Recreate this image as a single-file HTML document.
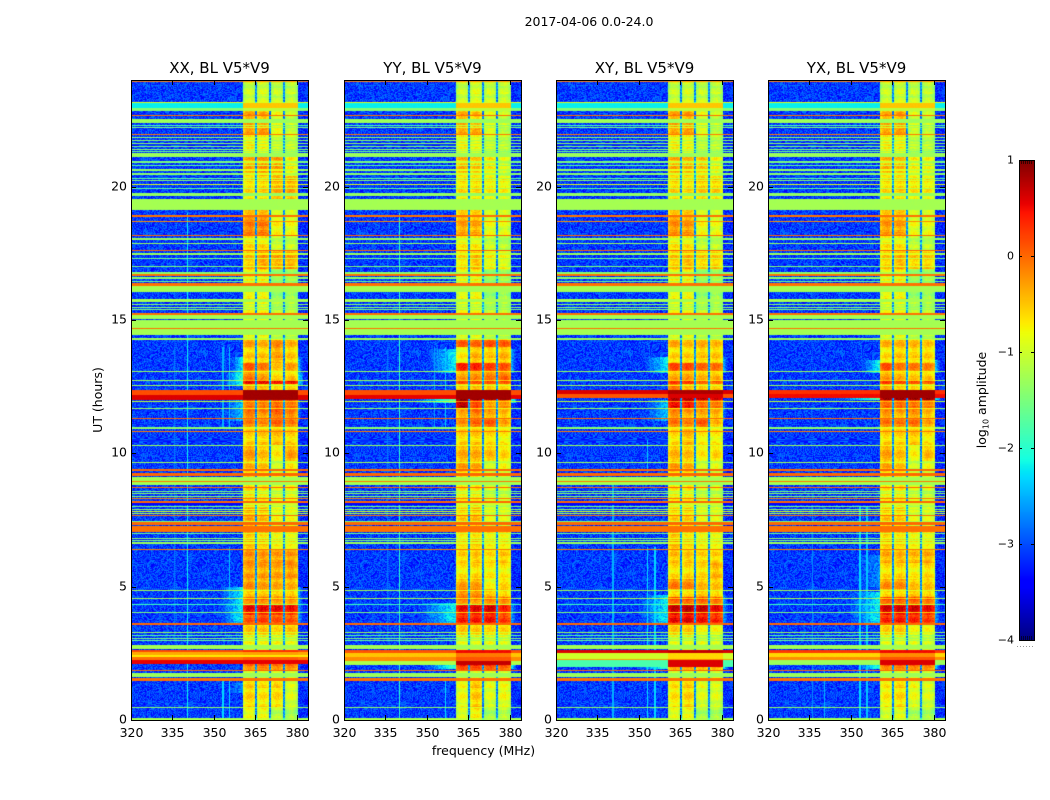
<!DOCTYPE html>
<html>
<head>
<meta charset="utf-8">
<title>2017-04-06 spectrograms</title>
<style>
html,body{margin:0;padding:0;background:#fff;width:1050px;height:800px;overflow:hidden}
#stage{position:relative;width:1050px;height:800px}
canvas{position:absolute;display:block}
svg{position:absolute;left:0;top:0}
text{font-family:"DejaVu Sans","Liberation Sans",sans-serif;fill:#000}
</style>
</head>
<body>
<div id="stage">
<svg id="ov" width="1050" height="800"></svg>
</div>
<script>
// ---- data ----
const panelNames = ["XX","YY","XY","YX"];
const panelLefts = [131,344,556,768];
const freqTicks = [320,335,350,365,380];
const utTicks = [0,5,10,15,20];
const cbarTicks = [1,0,-1,-2,-3,-4];
const cbarLabels = ["1","0","\u22121","\u22122","\u22123","\u22124"];

// full-width flagged rows: [UT low, UT high, log10 amplitude, optional in-band amplitude]
const flaggedRows = [
[23.94,23.98,-0.1],[23.14,23.18,-0.9],[22.95,23.14,-2.2,-0.5],[22.84,22.95,-1.45,-1.1],[22.65,22.69,-0.05],
[22.39,22.54,-1.3],[22.28,22.32,-1.8],[22.2,22.24,-1.5],[21.94,21.99,-0.1],
[21.83,21.87,-1.4],[21.72,21.76,-1.4],[21.61,21.65,-1.4],[21.5,21.54,-1.5],[21.39,21.43,-1.4],[21.3,21.34,-1.6],
[21.11,21.26,-1.3],[20.9,20.97,-1.5],[20.78,20.82,-1.7],[20.6,20.65,-1.35],[20.45,20.5,-1.4],[20.3,20.34,-1.7],
[20.2,20.24,-1.4],[20.06,20.1,-0.9],[19.9,19.95,-1.7],[19.65,19.76,-1.35],[19.13,19.52,-1.25],
[18.86,18.92,-0.05],[18.68,18.72,-0.2],[18.15,18.19,0],[18.0,18.08,-1.3],[17.85,17.9,-1.3],[17.59,17.64,0],[17.44,17.5,-1.3],
[17.28,17.32,-1.6],[16.98,17.03,-1.5],
[16.73,16.8,-1.4],[16.65,16.73,-0.05],[16.54,16.6,-1.4],[16.42,16.46,-1.6],[16.28,16.38,-0.05],[16.05,16.28,-1.25],
[15.68,15.79,-1.25],[15.56,15.6,-1.4],[15.46,15.5,-1.4],[15.38,15.42,-1.5],[15.19,15.26,-0.05],[15.02,15.19,-1.25],
[14.7,15.0,-1.25],[14.66,14.7,-0.05],[14.44,14.66,-1.25],[14.25,14.33,-1.3],[13.05,13.09,-1.3],
[12.71,12.75,-1.3],[12.53,12.57,-1.3],[11.92,11.97,-1.1],[11.66,11.7,-1.3],[11.29,11.34,0],[10.95,11.0,-1.5],[10.91,10.95,-1.3],
[10.8,10.84,-0.1],[10.28,10.32,-1.3],[9.64,9.69,-1.3],[9.32,9.4,0],[9.15,9.25,0],
[8.81,9.11,-1.25],[8.93,8.98,-0.1],[8.7,8.75,0],[8.56,8.6,-1.5],[8.46,8.5,-1.4],[8.36,8.4,-1.4],[8.28,8.33,-0.1],
[8.14,8.2,0],[8.08,8.14,-3.4,-1],[7.97,8.02,-1.5],[7.86,7.9,-1.4],[7.8,7.84,-0.9],[7.65,7.7,-0.05],[7.72,7.78,-1.2],
[7.42,7.46,-1.5],[7.32,7.42,0],[7.14,7.28,-0.05],[7.05,7.14,-0.05],[6.96,7.0,-1.6],[6.8,6.84,-1.4],[6.72,6.76,-1.5],[6.6,6.66,-1.3],[6.38,6.42,-0.1],
[4.84,4.88,-1.25],[4.54,4.58,-1.25],[4.31,4.35,-1.9],[4.01,4.05,-1.5],[3.56,3.62,0],[3.26,3.3,-1.3],
[3.14,3.18,-1.7],[3.05,3.09,-1.5],[2.96,3.0,-1.6],[2.66,2.81,-1.25],[1.84,1.88,0],[1.61,1.76,-1.3],[1.46,1.58,-0.05],[0.45,0.49,-1.4],[0,0.07,-1.25]
];

// row bands that differ by polarisation: [UT low, UT high, outside band level, in band level]
const rowsXX = [[12.2,12.36,0.15,0.85],[12.0,12.2,0.6,0.85],[2.55,2.64,0.15,0.3],[2.44,2.55,-0.35,-0.3],[2.36,2.44,-0.7,-0.7],[2.25,2.36,-0.05,0.05],[2.1,2.25,0.55,0.55]];
const rowsYY = [[12.17,12.36,0.15,0.85],[12.03,12.17,0.55,0.85],[2.5,2.64,0.1,0.5],[2.36,2.5,-0.5,-0.1],[2.22,2.36,-0.2,0.1],[2.05,2.22,-1.2,0.7]];
const rowsXY = [[12.24,12.36,0.6,0.8],[12.08,12.24,0.1,0.6],[2.52,2.64,0.6,0.7],[2.3,2.52,-1.0,-0.6],[2.25,2.3,-0.3,-0.2],[2.0,2.25,-1.8,0.6]];
const rowsYX = [[12.22,12.36,0.3,0.85],[12.08,12.22,0.5,0.85],[2.52,2.64,0.25,0.5],[2.36,2.52,-0.6,-0.2],[2.25,2.36,-0.2,0.1],[2.05,2.25,-1.3,0.6]];

// UT edges of the in-band segments (descending)
const bandEdges = [24,22.9,22.2,21.98,21.1,20.4,19.5,18.9,18.2,17.6,16.9,15.8,14.3,14,13.4,13.05,12.75,12.6,12.34,12,11.7,11.3,10.9,10.3,9.7,9.3,8.1,7.1,6.4,5.9,5.3,4.9,4.6,4.3,3.95,3.6,3.1,2.8,2.6,2.14,1.85,1.5,0.45,0];

// level in each of the four sub-bands, one row per segment
const bandXX = [[-1,-.95,-1.05,-1.05],[-.3,-.4,-.85,-1],[-.15,-.1,-.7,-.9],[-.7,-.75,-1,-1],[-.35,-.25,-.3,-.75],[-.6,-.55,-.35,-.35],[-.5,-.5,-1,-1],[-.1,-.1,-.75,-.8],[-.6,-.6,-1,-1],[-.45,-.25,-.3,-.3],[-.7,-.7,-1.3,-1.2],[-.8,-.8,-1.1,-1.1],[-.3,-.4,-.2,-.4],[-.5,-.5,-.3,-.5],[.05,-.1,-.5,-.3],[-.1,-.3,-.6,-.5],[.7,.7,.6,.6],[-.4,-.5,-.7,-.6],[.75,.75,.7,.7],[0,0,.1,.05],[-.05,-.2,.05,-.1],[-.1,-.2,0,-.1],[-.55,-.5,-.45,-.55],[-.25,-.45,-.7,-.3],[-.4,-.5,-1,-.7],[-.6,-.7,-.9,-.8],[-.35,-.45,-.8,-.8],[-.4,-.5,-.7,-.7],[-.2,-.25,-.25,-.25],[-.25,-.3,-.3,-.25],[-.2,-.3,-.35,-.4],[-.4,-.4,-.45,-.45],[-.1,-.1,-.2,-.2],[.5,.5,.5,.45],[.1,.2,.1,.1],[-.5,-.5,-.6,-.5],[-.8,-.8,-.85,-.85],[-1,-1,-1,-1],[-.1,-.1,-.2,-.2],[-.1,0,-.1,-.1],[-1,-1,-1,-1],[-.55,-.65,-.6,-.9],[-.8,-.8,-1.1,-1.2]];
const bandYY = [[-1,-.9,-1,-1],[-.35,-.5,-.9,-1],[-.2,-.2,-.8,-1],[-.75,-.8,-1,-1.05],[-.4,-.5,-.7,-.9],[-.6,-.6,-.7,-.75],[-.6,-.6,-1,-1],[-.3,-.35,-.85,-.9],[-.7,-.7,-1,-1.1],[-.6,-.4,-.7,-.8],[-.8,-.7,-1.3,-1.2],[-.85,-.85,-1.1,-1.1],[.05,0,.1,.05],[-.7,-.4,-.5,-.4],[.35,.35,.2,.1],[-.3,-.2,-.1,0],[.35,.3,.3,.25],[-.6,-.5,-.6,-.6],[.85,.85,.85,.85],[.85,.3,-.2,-.1],[-.3,-.1,-.3,-.4],[-.2,0,.05,-.3],[-.55,-.5,-.6,-.7],[-.35,-.35,-.45,-.6],[-.3,-.35,-1,-.8],[-.7,-.7,-1,-1],[-.55,-.45,-.9,-.9],[-.6,-.5,-.7,-.65],[-.55,-.5,-.6,-.5],[-.65,-.6,-.7,-.7],[-.3,-.3,-.8,-.6],[-.1,-.1,-.4,-.5],[-.1,-.2,-.1,-.1],[.5,.55,.6,.35],[.4,.4,.45,.25],[-.5,-.55,-.6,-.6],[-.9,-.9,-.9,-.9],[-1,-1,-1,-1],[-.2,-.2,-.3,-.3],[.3,.3,.2,.1],[-1,-1,-1,-1],[-.8,-.5,-.9,-.8],[-.9,-.7,-1.2,-1.1]];
const bandXY = [[-1,-.95,-1.05,-1.05],[-.3,-.35,-.9,-1],[-.2,-.15,-.8,-1],[-.7,-.75,-1.05,-1.05],[-.35,-.4,-.5,-.8],[-.55,-.6,-.5,-.55],[-.55,-.55,-1,-1],[-.2,-.25,-.8,-.85],[-.65,-.65,-1.05,-1.05],[-.45,-.35,-.5,-.5],[-.75,-.7,-1.3,-1.2],[-.85,-.85,-1.1,-1.1],[-.35,-.45,-.4,-.45],[-.55,-.55,-.5,-.5],[.15,.15,0,-.05],[-.35,-.3,-.4,-.4],[.45,.45,.2,.15],[-.1,-.5,-.6,-.6],[.75,.7,.7,.6],[.6,.55,.1,.05],[-.15,-.3,-.3,-.35],[-.05,-.15,.05,-.4],[-.6,-.4,-.7,-.7],[-.4,-.45,-.7,-.6],[-.3,-.4,-1,-.9],[-.7,-.7,-1,-1],[-.55,-.55,-.9,-.9],[-.35,-.55,-.7,-.7],[-.45,-.5,-.55,-.55],[-.6,-.6,-.6,-.4],[-.1,-.15,-.45,-.5],[-.5,-.5,-.4,-.5],[.1,.1,.1,0],[.65,.7,.65,.5],[.5,.55,.45,.35],[-.5,-.55,-.8,-.8],[-.9,-.9,-.95,-.95],[-1,-1,-1,-1],[-.3,-.3,-.4,-.4],[-.2,-.2,-.3,-.3],[-1,-1,-1,-1],[-.65,-.55,-.9,-.9],[-.85,-.8,-1.2,-1.2]];
const bandYX = [[-1,-.95,-1.05,-1.05],[-.35,-.35,-.95,-1],[-.2,-.15,-.9,-.95],[-.7,-.7,-1.05,-1.05],[-.4,-.45,-.75,-.8],[-.6,-.55,-.65,-.7],[-.55,-.55,-1,-1],[-.25,-.3,-.85,-.85],[-.65,-.65,-1.05,-1.05],[-.5,-.35,-.5,-.5],[-.75,-.7,-1.3,-1.2],[-.85,-.85,-1.1,-1.1],[-.4,-.4,-.45,-.5],[-.6,-.5,-.55,-.55],[.1,-.1,-.1,-.15],[-.3,-.4,-.5,-.5],[.45,.35,.3,.2],[-.4,-.6,-.65,-.65],[.85,.85,.85,.85],[.1,.1,.05,0],[-.2,-.35,-.2,-.4],[-.05,-.1,-.05,-.3],[-.55,-.55,-.5,-.65],[-.3,-.45,-.75,-.45],[-.35,-.5,-1,-.85],[-.7,-.7,-.95,-1],[-.5,-.55,-.9,-.9],[-.45,-.55,-.7,-.7],[-.35,-.4,-.4,-.35],[-.6,-.6,-.7,-.6],[-.2,-.2,-.5,-.5],[-.5,-.5,-.4,-.5],[.1,.1,.1,0],[.6,.6,.6,.5],[.35,.4,.35,.25],[-.55,-.55,-.8,-.8],[-.9,-.9,-.95,-.95],[-1,-1,-1,-1],[-.25,-.25,-.3,-.3],[-.05,0,-.05,-.1],[-1,-1,-1,-1],[-.7,-.6,-.85,-.9],[-.95,-.85,-1.2,-1.2]];

// edge brightening beside the band: [UT low, UT high, start MHz, level]
const rampsXX = [[13.0,13.6,356,-2.2],[12.55,13.0,354,-1.9],[11.2,12.0,354,-2.4],[3.6,5.0,352,-2.2],[1.0,1.4,356,-2.6]];
const rampsYY = [[13.0,13.9,350,-2.2],[11.9,12.05,345,-1.6],[3.6,4.4,347,-2.2],[1.9,2.1,349,-1.9]];
const rampsXY = [[13.0,13.6,352,-2.2],[3.6,4.7,350,-2.2],[1.9,2.1,349,-1.9],[11.2,12,352,-2.4]];
const rampsYX = [[13.0,13.5,354,-2.1],[12.0,12.1,345,-1.7],[3.6,4.8,349,-2.2],[5,6.2,352,-2.7],[1.9,2.1,352,-2.0]];

// narrow vertical interference channels: [MHz, level, UT low, UT high]
const rfiXX = [[340.3,-2.2,0,19],[335.8,-2.8,3,14],[353.3,-2.3,0,1.5],[355.7,-2.3,0,1.5],[353.3,-2.5,11,14],[355.7,-2.4,11,14],[355.7,-2.4,4.5,6.5]];
const rfiYY = [[340,-2.0,0,19],[335.8,-2.8,3,14],[356.8,-2.3,0,1.5],[356.8,-2.4,11,14],[352.6,-2.6,11,14]];
const rfiXY = [[353.2,-2.3,0,6.5],[355.8,-2.3,0,6.5],[353.2,-2.4,9.3,10.5],[340.6,-2.5,0,9]];
const rfiYX = [[353.3,-2.3,0,8],[355.8,-2.4,0,8],[336,-2.7,0,8.5],[340.3,-2.5,0,2]];

const bandStart = 360.5, bandEnd = 380.3;
const subBandEdges = [365.3,370.3,375.4];
const backgroundLevel = -3.1;
const speckle = [.12,-.21,.05,.28,-.09,-.31,.17,.02,-.14,.33,-.26,.08,-.04,.22,-.18,.11,-.29,.25,-.07,.15,-.23,.31,-.12,.03,.19,-.27,.09,-.16,.26,-.02,.14,-.34,.21,-.06,.07,-.19,.29];
const bandFringe = [.1,.04,-.08,-.14,-.03,.09,.13,-.05,-.12,.02,.11];
// ---- end of data ----

const tableRows = {XX:rowsXX,YY:rowsYY,XY:rowsXY,YX:rowsYX};
const tableBand = {XX:bandXX,YY:bandYY,XY:bandXY,YX:bandYX};
const tableRamp = {XX:rampsXX,YY:rampsYY,XY:rampsXY,YX:rampsYX};
const tableRfi = {XX:rfiXX,YY:rfiYY,XY:rfiXY,YX:rfiYX};

const plotTop = 80, plotH = 640, plotW = 177;
const freqMin = 320, freqMax = 384;
function xOf(f){return (f-freqMin)/(freqMax-freqMin)*plotW;}
function yOf(u){return plotTop+plotH-u/24*plotH;}
function freqAt(px){return freqMin+(px+0.5)/plotW*(freqMax-freqMin);}
function utAt(py){return 24-(py+0.5)/plotH*24;}

function jet(t){
  t=Math.max(0,Math.min(1,t));
  function seg(p){for(let i=1;i<p.length;i++){if(t<=p[i][0]){const a=p[i-1],b=p[i];return a[1]+(b[1]-a[1])*(t-a[0])/(b[0]-a[0]);}}return p[p.length-1][1];}
  const r=seg([[0,0],[.35,0],[.66,1],[.89,1],[1,.5]]);
  const g=seg([[0,0],[.125,0],[.375,1],[.64,1],[.91,0],[1,0]]);
  const b=seg([[0,.5],[.11,1],[.34,1],[.65,0],[1,0]]);
  return [r*255,g*255,b*255];
}
function levelRGB(v){return jet((v+4)/5);}

function rowInfo(name,u){
  let flag=null;
  const own=tableRows[name];
  for(const r of flaggedRows){
    if(u>=r[0]&&u<r[1]){
      const thin=(r[1]-r[0])<0.1;
      flag=[r[2],r[3]===undefined?r[2]:r[3],r[3]===undefined&&thin&&r[2]<-0.5];
    }
  }
  for(const r of own){if(u>=r[0]&&u<r[1])flag=[r[2],r[3],false];}
  let seg=0;
  for(let i=0;i<bandEdges.length-1;i++){if(u<=bandEdges[i]&&u>bandEdges[i+1]){seg=i;break;}}
  const ramps=tableRamp[name].filter(r=>u>=r[0]&&u<r[1]);
  return {u:u,flag:flag,levels:tableBand[name][seg],ramps:ramps};
}
function inBandLevel(info,f,n,iy){
  const e=[bandStart].concat(subBandEdges,[bandEnd]);
  let s=0;for(const g of subBandEdges){if(f>g)s++;}
  const c=(e[s]+e[s+1])/2,h=(e[s+1]-e[s])/2,d=(f-c)/h;
  return info.levels[s]-0.35*d*d+n*0.45+bandFringe[(iy>>1)%bandFringe.length];
}
function cellLevel(name,info,f,ix,iy){
  const n=speckle[(iy*13+ix*29+((ix*iy)>>3))%speckle.length];
  const inBand=f>=bandStart&&f<=bandEnd;
  if(inBand){
    let gap=false;
    for(const g of subBandEdges){if(Math.abs(f-g)<0.35)gap=true;}
    if(info.flag&&!info.flag[2])return info.flag[1]+n*0.06;
    if(gap)return (info.flag?-1.8:-2.7)+n;
    const v=inBandLevel(info,f,n,iy);
    return info.flag?(v+info.flag[1])/2:v;
  }
  if(info.flag)return info.flag[0]+n*0.06;
  let v=backgroundLevel+n*1.1;
  if(f>bandEnd)v-=0.1;
  for(const r of tableRfi[name]){if(Math.abs(f-r[0])<0.22&&info.u>=r[2]&&info.u<r[3])v=Math.max(v,r[1]);}
  for(const r of info.ramps){
    if(f<bandStart&&f>=r[2]){v=Math.max(v,backgroundLevel+(r[3]-backgroundLevel)*(f-r[2])/(bandStart-r[2])+n*0.9);}
    if(f>bandEnd&&f<bandEnd+2){v=Math.max(v,r[3]-0.3-(f-bandEnd)*0.35+n*0.9);}
  }
  return v;
}

const stage=document.getElementById('stage');
const svg=document.getElementById('ov');
const NS='http://www.w3.org/2000/svg';
function mk(tag,attrs,parent){const e=document.createElementNS(NS,tag);for(const k in attrs)e.setAttribute(k,attrs[k]);(parent||svg).appendChild(e);return e;}

panelNames.forEach(function(name,pi){
  const left=panelLefts[pi];
  const cv=document.createElement('canvas');
  
  
  cv.width=plotW;cv.height=plotH;
  cv.style.left=left+'px';cv.style.top=plotTop+'px';
  stage.insertBefore(cv,svg);
  const ctx=cv.getContext('2d');
  const img=ctx.createImageData(plotW,plotH);
  for(let py=0;py<plotH;py++){
    const info=rowInfo(name,utAt(py));
    for(let px=0;px<plotW;px++){
      const c=levelRGB(cellLevel(name,info,freqAt(px),px,py));
      const o=(py*plotW+px)*4;
      img.data[o]=c[0];img.data[o+1]=c[1];img.data[o+2]=c[2];img.data[o+3]=255;
    }
  }
  ctx.putImageData(img,0,0);

  const g=mk('g',{});
  
  
  const frame=mk('rect',{x:left+.5,y:plotTop+.5,width:plotW,height:plotH,fill:'none',stroke:'#000','stroke-width':1},g);
  
  
  const title=mk('text',{x:left+plotW/2,y:73,'text-anchor':'middle','font-size':15},g);
  title.textContent=name+', BL V5*V9';
  
  
  freqTicks.forEach(function(f){
    const x=Math.round(left+xOf(f))+.5;
    const t1=mk('line',{x1:x,x2:x,y1:plotTop+640,y2:plotTop+635,stroke:'#000'},g);
    
    
    mk('line',{x1:x,x2:x,y1:plotTop,y2:plotTop+5,stroke:'#000'},g);
    const l=mk('text',{x:x,y:737,'text-anchor':'middle','font-size':12.5},g);
    l.textContent=String(f);
    
    
  });
  utTicks.forEach(function(u){
    const y=Math.round(yOf(u))+.5;
    const t1=mk('line',{x1:left,x2:left+5,y1:y,y2:y,stroke:'#000'},g);
    
    
    mk('line',{x1:left+plotW,x2:left+plotW-5,y1:y,y2:y,stroke:'#000'},g);
    const l=mk('text',{x:left-4,y:y+3,'text-anchor':'end','font-size':12.5},g);
    l.textContent=String(u);
    
    
  });
});

// colour bar
const cbX=1019,cbY=160,cbW=15,cbH=480;
const cb=document.createElement('canvas');


cb.width=cbW;cb.height=cbH;cb.style.left=cbX+'px';cb.style.top=cbY+'px';
stage.insertBefore(cb,svg);
const cbc=cb.getContext('2d');
for(let i=0;i<cbH;i++){const c=jet(1-(i+.5)/cbH);cbc.fillStyle='rgb('+Math.round(c[0])+','+Math.round(c[1])+','+Math.round(c[2])+')';cbc.fillRect(0,i,cbW,1);}
const cbFrame=mk('rect',{x:cbX+.5,y:cbY+.5,width:cbW,height:cbH,fill:'none',stroke:'#000'});


cbarTicks.forEach(function(v,i){
  const y=Math.round(cbY+(1-v)/5*cbH)+.5;
  mk('line',{x1:cbX,x2:cbX+3,y1:y,y2:y,stroke:'#000'});
  mk('line',{x1:cbX+cbW,x2:cbX+cbW-3,y1:y,y2:y,stroke:'#000'});
  const l=mk('text',{x:1014,y:y+3,'text-anchor':'end','font-size':11},null);
  l.textContent=cbarLabels[i];
  
  
});
const dense=[2,4,6,8,10,12];
dense.forEach(function(d){
  mk('line',{x1:cbX+d+.5,x2:cbX+d+.5,y1:cbY,y2:cbY+4,stroke:'#000','stroke-width':.6});
  mk('line',{x1:cbX+d+.5,x2:cbX+d+.5,y1:cbY+cbH,y2:cbY+cbH-4,stroke:'#000','stroke-width':.6});
});
const dots=mk('line',{x1:1017,x2:1035,y1:646.5,y2:646.5,stroke:'#999','stroke-dasharray':'1 2'});



const cbLabel=mk('text',{x:0,y:0,'text-anchor':'middle','font-size':12.5,transform:'translate(986,400) rotate(-90)'});


const p1=mk('tspan',{},cbLabel);p1.textContent='log';
const p2=mk('tspan',{'font-size':8,dy:2.5},cbLabel);p2.textContent='10';
const p3=mk('tspan',{dy:-2.5},cbLabel);p3.textContent=' amplitude';

const figTitle=mk('text',{x:589,y:26,'text-anchor':'middle','font-size':12.5});
figTitle.textContent='2017-04-06 0.0-24.0';


const xTitle=mk('text',{x:483.5,y:755,'text-anchor':'middle','font-size':12.5});
xTitle.textContent='frequency (MHz)';


const yTitle=mk('text',{x:0,y:0,'text-anchor':'middle','font-size':12.5,transform:'translate(102,400) rotate(-90)'});
yTitle.textContent='UT (hours)';


</script>
</body>
</html>
